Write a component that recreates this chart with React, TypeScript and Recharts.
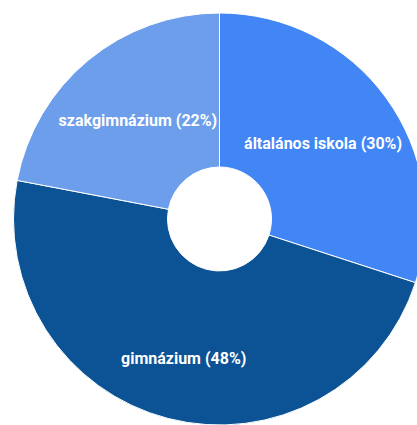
import React from "react";
import { PieChart, Pie, Cell } from "recharts";

const categories = ["általános iskola", "gimnázium", "szakgimnázium"];
const values = [30, 48, 22];

const COLORS = ["#4285F4", "#0B5394", "#6D9EEB"];
const LABEL_RADIUS: Record<string, number> = {
  "általános iskola": 128,
  gimnázium: 144,
  szakgimnázium: 128,
};

const data = categories.map((name, i) => ({ name, value: values[i] }));
const RAD = Math.PI / 180;

const renderLabel = (props: any) => {
  const { cx, cy, midAngle, name, percent } = props;
  const r = LABEL_RADIUS[name] ?? 128;
  const x = cx + r * Math.cos(-midAngle * RAD);
  const y = cy + r * Math.sin(-midAngle * RAD);
  return (
    <text
      x={x}
      y={y}
      fill="#ffffff"
      textAnchor="middle"
      dominantBaseline="central"
      fontFamily="Roboto, Arial, sans-serif"
      fontWeight="bold"
      fontSize={16}
    >
      {`${name} (${Math.round(percent * 100)}%)`}
    </text>
  );
};

export default function App() {
  return (
    <div style={{ position: "absolute", left: 0, top: 0, width: 417, height: 425, background: "#fff" }}>
      <PieChart width={417} height={425} margin={{ top: 0, right: 0, bottom: 0, left: 0 }}>
        <Pie
          data={data}
          dataKey="value"
          nameKey="name"
          cx={219.5}
          cy={219}
          innerRadius={52}
          outerRadius={206}
          startAngle={90}
          endAngle={-270}
          stroke="#ffffff"
          strokeWidth={1}
          label={renderLabel}
          labelLine={false}
          isAnimationActive={false}
        >
          {data.map((d, i) => (
            <Cell key={d.name} fill={COLORS[i]} />
          ))}
        </Pie>
      </PieChart>
    </div>
  );
}
